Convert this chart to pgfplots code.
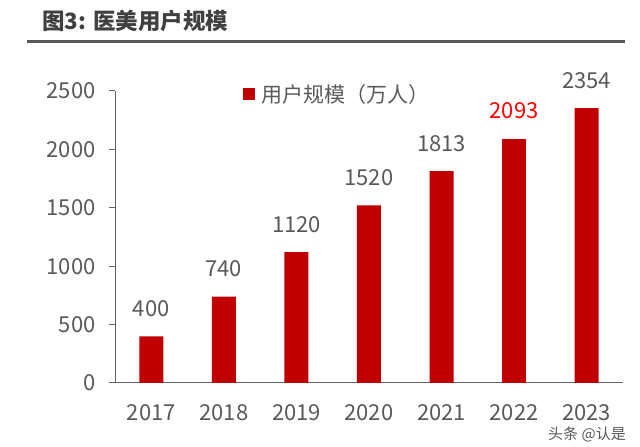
\documentclass[border=0pt]{standalone}
\usepackage{fontspec}
\setmainfont{Noto Sans CJK SC}
\usepackage{pgfplots}
\pgfplotsset{compat=1.18}
\definecolor{barred}{RGB}{192,0,0}
\definecolor{txtgray}{RGB}{89,89,89}
\definecolor{axgray}{RGB}{100,100,100}
\definecolor{titlegray}{RGB}{64,64,64}
\begin{document}
\begin{tikzpicture}
\useasboundingbox (0,0) rectangle (640bp,447bp);
\node[anchor=west, inner sep=0, text=titlegray, font=\fontsize{22.5bp}{26bp}\selectfont\bfseries] at (42bp,426bp) {图3: 医美用户规模};
\draw[line width=3bp, color=txtgray] (27bp,405.5bp) -- (625bp,405.5bp);
\begin{axis}[
  at={(115bp,64bp)}, anchor=south west,
  scale only axis, width=508bp, height=292bp,
  xmin=-0.5, xmax=6.5, ymin=0, ymax=2500,
  axis x line*=bottom, axis y line*=left,
  axis line style={axgray, line width=1bp},
  xtick={0,...,6},
  xticklabels={2017,2018,2019,2020,2021,2022,2023},
  minor xtick={-0.5,0.5,...,6.5},
  ytick={0,500,...,2500},
  tick align=outside,
  x tick style={draw=none},
  minor x tick style={axgray, line width=1bp},
  minor tick length=6bp,
  y tick style={axgray, line width=1bp},
  major tick length=6bp,
  ticklabel style={text=txtgray, font=\fontsize{22bp}{26bp}\selectfont},
  /pgf/number format/assume math mode=true,
  /pgf/number format/1000 sep={},
  xticklabel style={yshift=-12bp},
  yticklabel style={xshift=-10bp},
  ybar, bar width=24bp,
  legend style={at={(0.437,0.99)}, anchor=center, draw=none, fill=none,
    font=\fontsize{21bp}{24bp}\selectfont, text=txtgray, inner sep=0pt,
    /tikz/every even column/.append style={column sep=0pt}},
  legend image code/.code={\fill[#1] (0bp,-6bp) rectangle (12bp,6bp);},
  nodes near coords style={text=txtgray, font=\fontsize{22bp}{26bp}\selectfont, anchor=base, inner sep=0pt, yshift=20bp},
]
\addplot[fill=barred, draw=none, bar shift=0pt, nodes near coords] coordinates {(0,400) (1,740) (2,1120) (3,1520) (4,1813) (6,2354)};
\addlegendentry{\hspace{5bp}用户规模（万人）}
\addplot[fill=barred, draw=none, bar shift=0pt, nodes near coords, nodes near coords style={text=red}] coordinates {(5,2093)};
\end{axis}
\node[anchor=center, inner sep=0, text=txtgray, font=\fontsize{15bp}{17bp}\selectfont] at (587bp,13bp) {头条 @认是};
\end{tikzpicture}
\end{document}
